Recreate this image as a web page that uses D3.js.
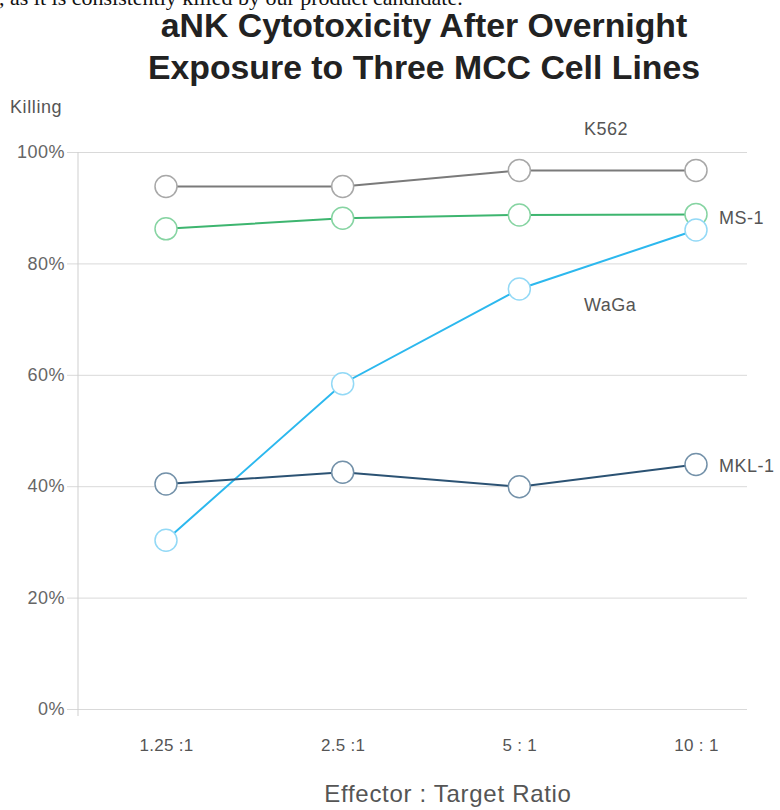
<!DOCTYPE html>
<html>
<head>
<meta charset="utf-8">
<script src="https://cdn.jsdelivr.net/npm/d3@7"></script>
<style>
  html, body { margin: 0; padding: 0; background: #fff; overflow: hidden; }
  svg { display: block; }
</style>
</head>
<body>
<svg id="chart" width="780" height="810"></svg>
<script>
const ratios = ["1.25 :1", "2.5 :1", "5 : 1", "10 : 1"];
const k562 = [93.8, 93.8, 96.7, 96.7];
const ms1 = [86.2, 88.1, 88.7, 88.8];
const waga = [30.3, 58.4, 75.4, 86.0];
const mkl1 = [40.4, 42.5, 39.9, 43.9];
const yTicks = [0, 20, 40, 60, 80, 100];

const seriesDefs = [
  { name: "K562", values: k562, line: "#7a7a7a", ring: "#a8a8a8", lx: 584, ly: 135 },
  { name: "MS-1", values: ms1, line: "#3db56f", ring: "#86d4a2", lx: 719, ly: 224 },
  { name: "WaGa", values: waga, line: "#2cb8ee", ring: "#93d9f6", lx: 584, ly: 311 },
  { name: "MKL-1", values: mkl1, line: "#2b5273", ring: "#7391a9", lx: 719, ly: 472 }
];

const svg = d3.select("#chart");
const font = "'Liberation Sans', Arial, Helvetica, sans-serif";

// Cut-off text line from the surrounding document
svg.append("text")
  .attr("x", -1).attr("y", 5)
  .attr("font-family", "'Liberation Serif', 'Times New Roman', serif")
  .attr("font-size", 22)
  .attr("fill", "#111")
  .text(", as it is consistently killed by our product candidate.");

// Title
const title = svg.append("text")
  .attr("text-anchor", "middle")
  .attr("font-family", font)
  .attr("font-weight", "bold")
  .attr("font-size", 33.8)
  .attr("fill", "#222");
title.append("tspan").attr("x", 424).attr("y", 37).text("aNK Cytotoxicity After Overnight");
title.append("tspan").attr("x", 424).attr("y", 79).text("Exposure to Three MCC Cell Lines");

const x = d3.scalePoint().domain(ratios).range([166, 696]);
const y = d3.scaleLinear().domain([0, 100]).range([709, 152]);

// Gridlines + y axis
const yAxis = d3.axisLeft(y)
  .tickValues(yTicks)
  .tickFormat(d => d + "%")
  .tickSize(-(747 - 78));
const gy = svg.append("g").attr("transform", "translate(78,0)").call(yAxis);
gy.select(".domain").remove();
gy.selectAll(".tick line").attr("stroke", "#d9d9d9").attr("x1", -11).attr("x2", 747 - 78);
gy.selectAll(".tick text")
  .attr("font-family", font).attr("font-size", 18).attr("fill", "#666")
  .attr("letter-spacing", 0.5)
  .attr("x", -13);

// vertical axis line
svg.append("line")
  .attr("x1", 78).attr("x2", 78)
  .attr("y1", y(100)).attr("y2", y(0) + 7)
  .attr("stroke", "#cfcfcf");

// x axis labels
const xAxis = d3.axisBottom(x).tickSize(0).tickPadding(0);
const gx = svg.append("g").attr("transform", "translate(0,745)").call(xAxis);
gx.select(".domain").remove();
gx.selectAll(".tick text")
  .attr("font-family", font).attr("font-size", 17).attr("fill", "#555")
  .attr("letter-spacing", 0.3)
  .attr("dy", "0.35em");

// Axis titles
svg.append("text")
  .attr("x", 10).attr("y", 113)
  .attr("font-family", font).attr("font-size", 18).attr("fill", "#555")
  .attr("letter-spacing", 0.6)
  .text("Killing");
svg.append("text")
  .attr("x", 448).attr("y", 802)
  .attr("text-anchor", "middle")
  .attr("font-family", font).attr("font-size", 24).attr("fill", "#555")
  .attr("letter-spacing", 0.7)
  .text("Effector : Target Ratio");

// Series
const line = d3.line().x((d, i) => x(ratios[i])).y(d => y(d));
seriesDefs.forEach(s => {
  svg.append("path")
    .datum(s.values)
    .attr("d", line)
    .attr("fill", "none")
    .attr("stroke", s.line)
    .attr("stroke-width", 2);
});
seriesDefs.forEach(s => {
  svg.append("g").selectAll("circle")
    .data(s.values)
    .join("circle")
    .attr("cx", (d, i) => x(ratios[i]))
    .attr("cy", d => y(d))
    .attr("r", 11)
    .attr("fill", "#fff")
    .attr("stroke", s.ring)
    .attr("stroke-width", 1.5);
});
seriesDefs.forEach(s => {
  svg.append("text")
    .attr("x", s.lx).attr("y", s.ly)
    .attr("font-family", font).attr("font-size", 18).attr("fill", "#555")
    .attr("letter-spacing", 0.5)
    .text(s.name);
});
</script>
</body>
</html>
